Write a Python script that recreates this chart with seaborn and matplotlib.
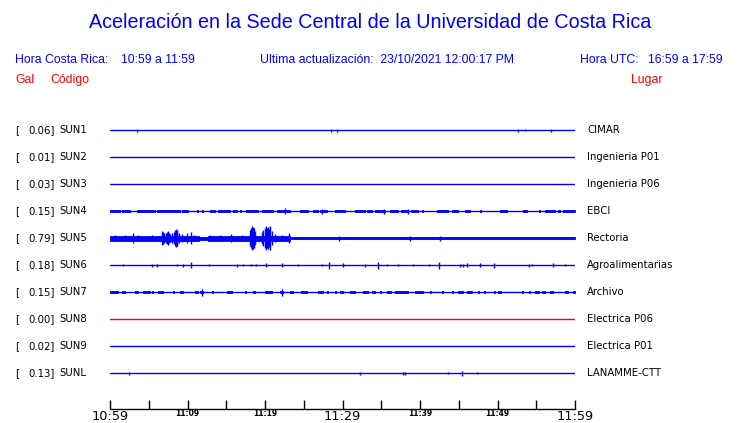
"""
Aceleracion en la Sede Central UCR - recreacion del registro de una hora
"""
import matplotlib
matplotlib.use("Agg")
import matplotlib.pyplot as plt
import matplotlib.transforms as mtransforms
import seaborn as sns
import numpy as np
import pandas as pd

# estaciones (de arriba hacia abajo)
codes = ["SUN1", "SUN2", "SUN3", "SUN4", "SUN5", "SUN6", "SUN7", "SUN8", "SUN9", "SUNL"]
places = ["CIMAR", "Ingenieria P01", "Ingenieria P06", "EBCI", "Rectoria",
          "Agroalimentarias", "Archivo", "Electrica P06", "Electrica P01", "LANAMME-CTT"]
gal = [0.06, 0.01, 0.03, 0.15, 0.79, 0.18, 0.15, 0.00, 0.02, 0.13]

# minutos desde 10:59
t_start, t_end = 0, 60
tick_minutes = list(range(0, 61, 5))
tick_labels = ["10:59", "", "11:09", "", "11:19", "", "11:29", "", "11:39", "", "11:49", "", "11:59"]

# picos (minuto, semiamplitud en px)
spikes_sun1 = [(3.53, 1.5), (28.5, 1.5), (29.3, 1.5), (52.6, 1.5), (53.6, 0.7), (56.9, 1.5)]
spikes_sun4 = [(22.6, 3.0), (27.3, 2.5), (35.3, 2.5), (38.5, 2.5)]
spikes_sun5 = [(0.65, 3), (1.9, 3), (3.0, 5), (3.65, 3), (5.4, 3), (6.7, 7), (6.85, 6),
               (7.0, 5), (7.2, 5), (7.3, 6), (7.45, 7), (7.6, 5), (7.75, 4), (8.0, 5),
               (8.2, 6), (8.35, 8), (8.5, 9), (8.6, 8), (8.7, 7), (8.9, 5), (9.3, 4),
               (9.9, 5), (10.45, 6), (10.9, 3), (12.9, 3), (14.2, 3), (15.6, 4), (17.0, 3),
               (18.05, 8), (18.2, 10), (18.35, 12), (18.5, 11), (18.6, 10), (18.75, 7),
               (19.65, 6), (19.8, 8), (19.95, 10), (20.1, 12), (20.25, 10), (20.4, 11),
               (20.55, 9), (20.7, 12), (20.85, 7), (21.3, 4), (22.15, 3), (23.1, 5),
               (29.5, 2.5), (38.7, 2.5), (42.6, 2.5)]
spikes_sun6 = [(1.72, 1), (5.4, 1.5), (6.1, 1.5), (8.6, 1), (9.4, 1.5), (10.5, 3),
               (12.8, 1), (16.4, 1.5), (17.2, 1), (18.15, 1), (18.9, 1), (20.1, 2),
               (22.15, 2), (24.3, 1), (27.3, 1), (28.3, 3.5), (30.0, 2), (32.9, 1.5),
               (34.6, 3.5), (35.7, 1), (37.2, 1), (39.1, 1), (41.1, 1), (42.5, 3.5),
               (45.2, 1.5), (45.6, 1.5), (46.1, 2), (47.7, 2), (49.5, 2.5), (54.0, 1.5),
               (54.4, 1), (57.2, 2), (58.7, 1)]
spikes_sun7 = [(11.83, 3.5), (22.15, 3.5)]
spikes_sunl = [(2.5, 1.5), (32.2, 1.5), (37.8, 1.5), (38.1, 1.5), (43.65, 1), (45.4, 2.5),
               (47.4, 1)]

# tramos de ruido continuo (inicio, fin) o (inicio, fin, semiamplitud px)
bands_sun4 = [(0.0, 1.29), (1.5, 2.58), (3.44, 5.8), (6.02, 9.03), (9.25, 10.1), (11.18, 11.3),
              (11.83, 11.95), (12.9, 13.55), (13.98, 15.48), (15.9, 16.34), (16.77, 16.9),
              (17.6, 19.14), (19.57, 21.08), (21.5, 22.15), (22.28, 23.2), (24.5, 25.6),
              (26.2, 26.88), (27.1, 27.96), (29.03, 30.3), (31.6, 32.9), (33.1, 33.8),
              (34.2, 35.5), (36.1, 37.2), (37.6, 38.5), (38.9, 39.8), (40.2, 40.35),
              (42.15, 43.65), (44.1, 44.95), (45.8, 46.45), (47.7, 47.85), (50.3, 51.2),
              (53.3, 53.8), (55.3, 55.45), (56.1, 57.4), (57.85, 58.0), (58.5, 60.0)]
bands_sun5 = [(0.0, 11.5, 2.5), (11.5, 12.6, 1.5), (12.6, 23.2, 2.5), (23.2, 60.0, 1.3)]
bands_sun7 = [(0.0, 1.08), (1.5, 1.94), (3.2, 3.66), (4.3, 4.73), (4.95, 5.1), (5.38, 5.5),
              (6.24, 6.88), (8.17, 8.3), (9.03, 9.46), (10.97, 11.4), (11.6, 12.04),
              (13.12, 13.25), (15.05, 15.7), (17.4, 17.55), (18.5, 18.65), (20.0, 20.86),
              (21.93, 22.36), (23.2, 23.66), (24.7, 25.37), (26.88, 27.0), (27.1, 27.53),
              (27.96, 28.1), (29.03, 29.15), (29.7, 30.1), (30.97, 31.6), (32.7, 33.3),
              (33.8, 34.2), (34.8, 34.95), (35.7, 36.3), (36.8, 38.5), (39.4, 40.4),
              (41.3, 41.45), (42.8, 42.95), (44.1, 44.25), (44.95, 45.6), (46.0, 46.7),
              (47.5, 47.65), (48.2, 48.35), (49.5, 49.65), (50.1, 50.5), (53.1, 53.25),
              (54.0, 54.15), (54.8, 55.3), (55.7, 56.1), (56.8, 57.2), (58.7, 59.1),
              (59.8, 59.95)]

spikes = {"SUN1": spikes_sun1, "SUN4": spikes_sun4, "SUN5": spikes_sun5,
          "SUN6": spikes_sun6, "SUN7": spikes_sun7, "SUNL": spikes_sunl}
bands = {"SUN4": [(s, e, 1.3) for s, e in bands_sun4], "SUN5": bands_sun5,
         "SUN7": [(s, e, 1.3) for s, e in bands_sun7]}

BLUE = "#0000ff"
RED = "#ff0000"
ROW_PX = 27.0  # separacion entre trazas en px

sns.set_theme(style="white")
plt.rcParams["font.family"] = ["DejaVu Sans"]
plt.rcParams["text.color"] = "black"
plt.rcParams["xtick.color"] = "black"

W, H = 740, 423
fig = plt.figure(figsize=(W / 100, H / 100), dpi=100)
fig.patch.set_facecolor("white")

# eje de las trazas: de 110 a 575 px en x, de 116 a 409 px en y
ax = fig.add_axes([110 / W, (H - 409) / H, 465 / W, 293 / H])
ax.set_facecolor("white")

for i, code in enumerate(codes):
    color = RED if code == "SUN8" else BLUE
    base = pd.DataFrame({"t": [t_start, t_end], "y": [i, i]})
    sns.lineplot(data=base, x="t", y="y", ax=ax, color=color, lw=1.0)
    for s, e, h in bands.get(code, []):
        ax.fill_between([s, e], i - h / ROW_PX, i + h / ROW_PX, color=color, lw=0.6)
    sp = spikes.get(code, [])
    if sp:
        tt = np.array([p[0] for p in sp])
        aa = np.array([p[1] for p in sp]) / ROW_PX
        ax.vlines(tt, i - aa, i + aa, color=color, lw=1.0)

ax.set_xlim(t_start, t_end)
ax.set_ylim(10.33, -0.52)
ax.set_xlabel("")
ax.set_ylabel("")
ax.set_yticks([])
for side in ["top", "left", "right"]:
    ax.spines[side].set_visible(False)
ax.spines["bottom"].set_color("black")
ax.spines["bottom"].set_linewidth(1.0)
ax.set_xticks(tick_minutes)
ax.set_xticklabels(tick_labels)
ax.tick_params(axis="x", direction="in", length=6.5, width=1.0, color="black", pad=0.5,
               bottom=True, labelcolor="black")
for lab, txt in zip(ax.get_xticklabels(), tick_labels):
    if txt in ("10:59", "11:29", "11:59"):
        lab.set_fontsize(9.3)
    else:
        lab.set_fontsize(5.5)
        lab.set_fontweight("bold")
        lab.set_y(0.004)

# etiquetas a izquierda y derecha de cada traza
trans = mtransforms.blended_transform_factory(fig.transFigure, ax.transData)
lab_kw = dict(transform=trans, va="center", fontsize=7.3, color="black")
for i, code in enumerate(codes):
    fig.text(15 / W, i, "[", ha="left", **lab_kw)
    fig.text(55 / W, i, f"{gal[i]:.2f}]", ha="right", **lab_kw)
    fig.text(59 / W, i, code, ha="left", **lab_kw)
    fig.text(587 / W, i, places[i], ha="left", **lab_kw)

# encabezado
hdr = dict(family="Liberation Sans", color=BLUE, va="center")
fig.text(0.5, 1 - 22 / H, "Aceleración en la Sede Central de la Universidad de Costa Rica",
         ha="center", fontsize=14.2, **hdr)
fig.text(15 / W, 1 - 60 / H, "Hora Costa Rica:", ha="left", fontsize=8.8, **hdr)
fig.text(121 / W, 1 - 60 / H, "10:59 a 11:59", ha="left", fontsize=8.8, **hdr)
fig.text(260 / W, 1 - 60 / H, "Ultima actualización:  23/10/2021 12:00:17 PM", ha="left",
         fontsize=8.8, **hdr)
fig.text(580 / W, 1 - 60 / H, "Hora UTC:", ha="left", fontsize=8.8, **hdr)
fig.text(723 / W, 1 - 60 / H, "16:59 a 17:59", ha="right", fontsize=8.8, **hdr)
red = dict(family="Liberation Sans", color=RED, va="center", fontsize=8.8)
fig.text(15 / W, 1 - 80 / H, "Gal", ha="left", **red)
fig.text(50 / W, 1 - 80 / H, "Código", ha="left", **red)
fig.text(662 / W, 1 - 80 / H, "Lugar", ha="right", **red)

fig.savefig("out.png", dpi=100, facecolor="white")
